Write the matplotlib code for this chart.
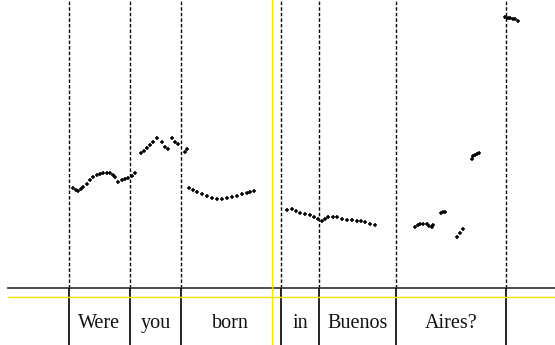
import matplotlib.pyplot as plt

# pitch track (time in s, f0 in Hz), one list per voiced stretch
seg_t = [
    [0.218, 0.227, 0.234, 0.243, 0.251, 0.262, 0.273, 0.283, 0.296, 0.307, 0.318, 0.329, 0.340, 0.350, 0.357],
    [0.368, 0.379, 0.390, 0.401, 0.412, 0.423],
    [0.442, 0.452, 0.462, 0.473, 0.484, 0.498, 0.512, 0.523, 0.534, 0.546, 0.557, 0.568, 0.590, 0.596],
    [0.604, 0.617, 0.629, 0.646, 0.662, 0.679, 0.696, 0.712, 0.729, 0.746, 0.762, 0.779, 0.796, 0.808, 0.820],
    [0.929, 0.946, 0.960, 0.973, 0.990, 1.007, 1.020, 1.034, 1.046, 1.057, 1.068, 1.082, 1.096, 1.112, 1.129,
     1.146, 1.162, 1.177, 1.190, 1.207, 1.223],
    [1.357, 1.367, 1.373, 1.384, 1.396, 1.403, 1.412, 1.418],
    [1.442, 1.450, 1.457],
    [1.496, 1.507, 1.518],
    [1.546, 1.551, 1.557, 1.563, 1.571],
    [1.657, 1.665, 1.673, 1.682, 1.690, 1.701],
]
seg_f0 = [
    [174.6, 172.5, 171.6, 173.8, 176.6, 180.6, 185.0, 188.8, 191.3, 193.1, 194.1, 194.1, 193.4, 191.3, 189.1],
    [182.9, 184.4, 185.9, 187.5, 190.0, 193.4],
    [218.4, 221.6, 224.6, 228.8, 232.9, 237.1, 232.9, 226.6, 223.4, 237.1, 232.9, 230.0, 220.4, 223.4],
    [174.6, 172.5, 170.4, 167.5, 165.0, 162.9, 161.3, 161.3, 162.1, 163.4, 165.0, 166.9, 169.1, 170.6, 171.3],
    [147.5, 148.4, 146.3, 144.1, 142.5, 141.3, 138.8, 135.9, 133.8, 136.3, 138.4, 138.4, 138.4, 136.6, 135.0,
     134.6, 134.1, 133.5, 132.9, 130.6, 128.8],
    [125.9, 128.8, 130.0, 130.0, 130.0, 128.1, 125.9, 129.1],
    [143.4, 144.4, 145.4],
    [114.1, 118.8, 123.4],
    [210.9, 215.0, 216.3, 217.5, 218.4],
    [389.1, 388.1, 387.1, 386.5, 385.9, 384.1],
]

# word tier
bounds = [0.202, 0.408, 0.575, 0.910, 1.037, 1.293, 1.660]
words = ['Were', 'you', 'born', 'in', 'Buenos', 'Aires?']
cursor = 0.880

tmax = 1.823
fmin, fmax = 50, 410

fig = plt.figure(figsize=(5.55, 3.45), dpi=100)
ax = fig.add_axes([8 / 555, 57 / 345, 547 / 555, 288 / 345])
tier = fig.add_axes([8 / 555, 0, 547 / 555, 57 / 345])

for a in (ax, tier):
    a.set_xlim(0, tmax)
    a.axis('off')
ax.set_ylim(fmin, fmax)
tier.set_ylim(0, 1)

for b in bounds:
    ax.axvline(b, color='black', lw=1, ls=(0, (2.5, 1.5)))
    tier.axvline(b, color='black', lw=1.2)

for t, f in zip(seg_t, seg_f0):
    ax.plot(t, f, ls='none', marker='+', ms=3.2, mew=1.1, color='black')

ax.axhline(fmin, color='#404040', lw=1.3, clip_on=False)
tier.axhline(0.84, color='#f5e400', lw=1)
ax.axvline(cursor, color='#f5e400', lw=1)
tier.axvline(cursor, color='#f5e400', lw=1)

for i, w in enumerate(words):
    mid = (bounds[i] + bounds[i + 1]) / 2
    tier.text(mid, 0.30, w, ha='center', va='baseline', fontsize=14.5,
              family='Liberation Serif', color='#111111')

fig.savefig('out.png', dpi=100)
